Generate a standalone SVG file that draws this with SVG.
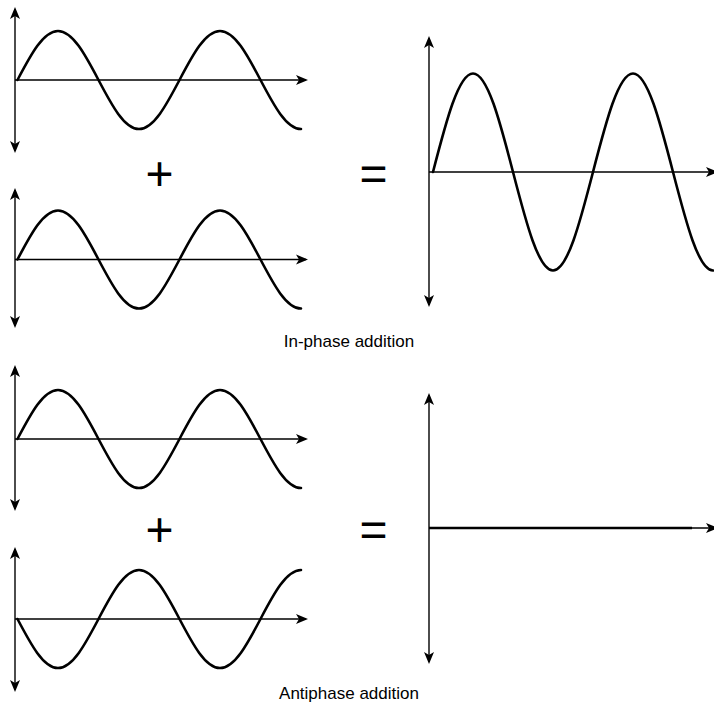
<svg xmlns="http://www.w3.org/2000/svg" xmlns:xlink="http://www.w3.org/1999/xlink" width="714" height="704" viewBox="0 0 714 704">
  <style>
    .axis { stroke: #000; stroke-width: 1.4; fill: none; marker-end: url(#arr); }
    .vaxis { stroke: #000; stroke-width: 1.4; fill: none; marker-start: url(#arr); marker-end: url(#arr); }
    .wave { stroke: #000; stroke-width: 2.6; fill: none; stroke-linecap: round; }
    .op { font-family: "Liberation Sans", Arial, sans-serif; font-size: 48px; fill: #000; text-anchor: middle; }
    .cap { font-family: "Liberation Sans", Arial, sans-serif; font-size: 17px; fill: #000; text-anchor: middle; }
  </style>
  <defs>
    <marker id="arr" markerUnits="userSpaceOnUse" markerWidth="16" markerHeight="14" viewBox="-12 -7 16 14" refX="0" refY="0" orient="auto-start-reverse" overflow="visible">
      <path d="M2,0 L-10,-5 L-7,0 L-10,5 Z" fill="#000"/>
    </marker>
    <path id="w1" d="M0,0 C13.21,-25.1 25.84,-49 40.5,-49 C55.16,-49 67.79,-25.1 81,0 C94.21,25.1 106.84,49 121.5,49 C136.16,49 148.79,25.1 162,0 C175.21,-25.1 187.84,-49 202.5,-49 C217.16,-49 229.79,-25.1 243,0 C256.21,25.1 268.84,49 283.5,49"/>
  </defs>
  <rect width="714" height="704" fill="#fff"/>

  <g id="connectors"></g>

  <g id="wave-top-1">
    <line class="vaxis" x1="15" y1="9" x2="15" y2="151"/>
    <line class="axis" x1="15" y1="80" x2="306" y2="80"/>
    <use xlink:href="#w1" class="wave" transform="translate(17.5,80)"/>
  </g>
  <g id="wave-top-2">
    <line class="vaxis" x1="15" y1="190" x2="15" y2="326"/>
    <line class="axis" x1="15" y1="259.5" x2="306" y2="259.5"/>
    <use xlink:href="#w1" class="wave" transform="translate(17.5,259.5)"/>
  </g>
  <g id="wave-top-sum">
    <line class="vaxis" x1="429" y1="38" x2="429" y2="305"/>
    <line class="axis" x1="429" y1="172" x2="716" y2="172"/>
    <path class="wave" transform="translate(433,172)" d="M0,0 C13.05,-50.5 25.52,-98.5 40,-98.5 C54.48,-98.5 66.95,-50.5 80,0 C93.05,50.5 105.52,98.5 120,98.5 C134.48,98.5 146.95,50.5 160,0 C173.05,-50.5 185.52,-98.5 200,-98.5 C214.48,-98.5 226.95,-50.5 240,0 C253.05,50.5 265.52,98.5 280,98.5"/>
  </g>
  <g id="op-top">
    <text class="op" x="159.5" y="190">+</text>
    <text class="op" x="373.5" y="190">=</text>
  </g>
  <text id="label-inphase" class="cap" x="349" y="347">In-phase addition</text>

  <g id="wave-bottom-1">
    <line class="vaxis" x1="15" y1="367" x2="15" y2="509"/>
    <line class="axis" x1="15" y1="439" x2="306" y2="439"/>
    <use xlink:href="#w1" class="wave" transform="translate(17.5,439)"/>
  </g>
  <g id="wave-bottom-2">
    <line class="vaxis" x1="15" y1="549" x2="15" y2="690"/>
    <line class="axis" x1="15" y1="619" x2="306" y2="619"/>
    <use xlink:href="#w1" class="wave" transform="translate(17.5,619) scale(1,-1)"/>
  </g>
  <g id="wave-bottom-sum">
    <line class="vaxis" x1="429" y1="395" x2="429" y2="662"/>
    <line class="axis" x1="429" y1="528" x2="716" y2="528"/>
    <line class="wave" x1="429" y1="528" x2="692" y2="528" style="stroke-linecap:butt"/>
  </g>
  <g id="op-bottom">
    <text class="op" x="159.5" y="546">+</text>
    <text class="op" x="373.5" y="546">=</text>
  </g>
  <text id="label-antiphase" class="cap" x="349" y="699">Antiphase addition</text>
</svg>
